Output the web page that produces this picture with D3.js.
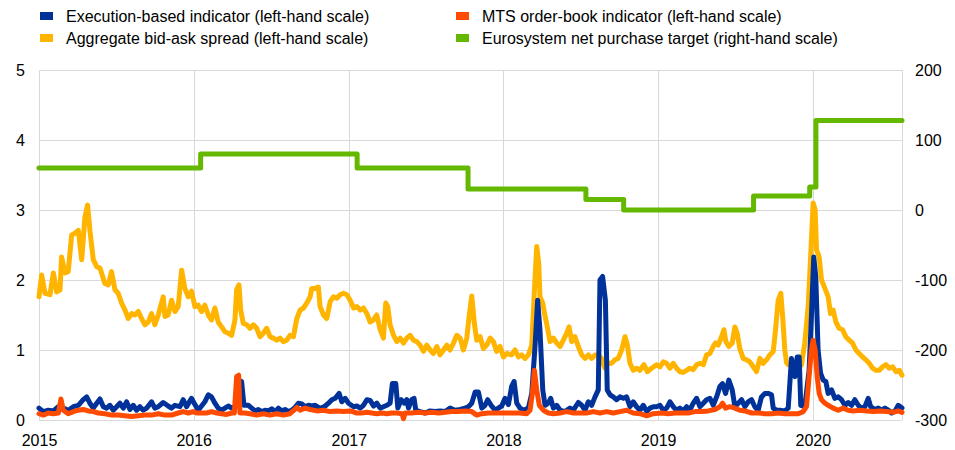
<!DOCTYPE html>
<html>
<head>
<meta charset="utf-8">
<script src="https://cdn.jsdelivr.net/npm/d3@7"></script>
<style>
  body { margin: 0; background: #fff; }
  svg { display: block; font-family: "Liberation Sans", Arial, sans-serif; }
</style>
</head>
<body>
<svg id="chart" width="955" height="450"></svg>
<script>
// series as [decimal year, value]
const execution = [
  [2015.000,0.17],[2015.028,0.12],[2015.060,0.14],[2015.093,0.13],[2015.125,0.19],[2015.157,0.17],[2015.189,0.14],[2015.222,0.19],
  [2015.254,0.21],[2015.286,0.29],[2015.308,0.33],[2015.329,0.24],[2015.351,0.17],[2015.373,0.24],[2015.394,0.30],[2015.416,0.19],
  [2015.437,0.17],[2015.459,0.21],[2015.480,0.14],[2015.502,0.19],[2015.523,0.24],[2015.545,0.17],[2015.566,0.26],[2015.588,0.15],
  [2015.609,0.21],[2015.631,0.14],[2015.652,0.19],[2015.674,0.14],[2015.696,0.17],[2015.728,0.26],[2015.749,0.17],[2015.771,0.19],
  [2015.803,0.25],[2015.835,0.20],[2015.857,0.17],[2015.879,0.21],[2015.911,0.19],[2015.932,0.29],[2015.954,0.19],[2015.986,0.31],
  [2016.008,0.22],[2016.029,0.14],[2016.051,0.20],[2016.072,0.26],[2016.094,0.36],[2016.115,0.33],[2016.137,0.24],[2016.158,0.17],
  [2016.180,0.14],[2016.202,0.17],[2016.223,0.20],[2016.245,0.17],[2016.266,0.19],[2016.277,0.20],[2016.288,0.57],[2016.309,0.55],
  [2016.324,0.21],[2016.352,0.21],[2016.374,0.17],[2016.395,0.13],[2016.417,0.15],[2016.438,0.12],[2016.460,0.14],[2016.481,0.13],
  [2016.503,0.16],[2016.525,0.12],[2016.546,0.17],[2016.568,0.13],[2016.589,0.15],[2016.611,0.12],[2016.632,0.14],[2016.654,0.18],
  [2016.675,0.24],[2016.697,0.23],[2016.718,0.19],[2016.740,0.21],[2016.761,0.20],[2016.783,0.21],[2016.804,0.18],[2016.826,0.17],
  [2016.848,0.20],[2016.869,0.24],[2016.891,0.29],[2016.912,0.31],[2016.938,0.38],[2016.955,0.26],[2016.977,0.31],[2016.998,0.24],
  [2017.031,0.19],[2017.052,0.20],[2017.074,0.17],[2017.095,0.21],[2017.117,0.29],[2017.138,0.28],[2017.160,0.20],[2017.181,0.24],
  [2017.203,0.17],[2017.224,0.19],[2017.246,0.21],[2017.267,0.24],[2017.282,0.52],[2017.304,0.52],[2017.317,0.17],[2017.339,0.29],
  [2017.360,0.24],[2017.375,0.29],[2017.386,0.17],[2017.407,0.29],[2017.422,0.31],[2017.433,0.14],[2017.461,0.12],[2017.494,0.10],
  [2017.526,0.13],[2017.558,0.12],[2017.590,0.13],[2017.623,0.12],[2017.655,0.17],[2017.687,0.14],[2017.720,0.15],[2017.752,0.17],
  [2017.773,0.19],[2017.795,0.24],[2017.817,0.40],[2017.838,0.40],[2017.860,0.17],[2017.881,0.21],[2017.898,0.29],[2017.920,0.21],
  [2017.946,0.14],[2017.967,0.17],[2017.989,0.20],[2018.010,0.31],[2018.032,0.22],[2018.053,0.48],[2018.069,0.55],[2018.086,0.24],
  [2018.107,0.17],[2018.129,0.14],[2018.161,0.17],[2018.183,0.38],[2018.204,1.05],[2018.221,1.71],[2018.236,1.29],[2018.254,0.43],
  [2018.269,0.21],[2018.290,0.24],[2018.305,0.31],[2018.323,0.17],[2018.344,0.21],[2018.366,0.14],[2018.398,0.12],[2018.430,0.17],
  [2018.452,0.14],[2018.484,0.25],[2018.506,0.21],[2018.527,0.14],[2018.549,0.26],[2018.570,0.21],[2018.592,0.33],[2018.613,0.43],
  [2018.624,2.00],[2018.641,2.05],[2018.659,1.71],[2018.671,0.43],[2018.689,0.36],[2018.710,0.33],[2018.732,0.29],[2018.753,0.33],
  [2018.775,0.31],[2018.796,0.33],[2018.818,0.19],[2018.839,0.26],[2018.861,0.19],[2018.882,0.14],[2018.904,0.21],[2018.926,0.12],
  [2018.947,0.17],[2018.969,0.19],[2018.990,0.19],[2019.012,0.21],[2019.033,0.14],[2019.055,0.17],[2019.076,0.26],[2019.098,0.19],
  [2019.119,0.14],[2019.141,0.17],[2019.162,0.13],[2019.184,0.19],[2019.205,0.14],[2019.227,0.24],[2019.249,0.31],[2019.270,0.19],
  [2019.292,0.24],[2019.313,0.29],[2019.335,0.31],[2019.356,0.21],[2019.378,0.33],[2019.399,0.48],[2019.416,0.52],[2019.436,0.38],
  [2019.457,0.57],[2019.479,0.43],[2019.496,0.19],[2019.518,0.24],[2019.539,0.29],[2019.561,0.19],[2019.582,0.26],[2019.604,0.29],
  [2019.625,0.19],[2019.647,0.14],[2019.668,0.33],[2019.690,0.38],[2019.711,0.38],[2019.733,0.36],[2019.744,0.17],[2019.765,0.14],
  [2019.787,0.14],[2019.819,0.13],[2019.841,0.17],[2019.862,0.88],[2019.884,0.62],[2019.899,0.90],[2019.912,0.90],[2019.922,0.21],
  [2019.948,0.19],[2019.976,0.71],[2019.991,1.48],[2020.006,2.33],[2020.019,2.05],[2020.034,1.00],[2020.050,0.67],[2020.067,0.57],
  [2020.084,0.55],[2020.099,0.38],[2020.121,0.43],[2020.142,0.31],[2020.164,0.33],[2020.185,0.29],[2020.207,0.21],[2020.228,0.25],
  [2020.250,0.21],[2020.271,0.29],[2020.293,0.21],[2020.314,0.17],[2020.336,0.19],[2020.357,0.31],[2020.373,0.19],[2020.400,0.15],
  [2020.422,0.17],[2020.444,0.14],[2020.465,0.17],[2020.487,0.14],[2020.508,0.10],[2020.530,0.13],[2020.551,0.21],[2020.575,0.17]
];

const mtsOrderBook = [
  [2015.000,0.09],[2015.028,0.07],[2015.060,0.10],[2015.093,0.09],[2015.125,0.10],[2015.142,0.30],[2015.157,0.14],[2015.189,0.09],
  [2015.222,0.12],[2015.254,0.14],[2015.286,0.15],[2015.319,0.13],[2015.351,0.12],[2015.383,0.10],[2015.426,0.09],[2015.469,0.07],
  [2015.512,0.07],[2015.556,0.06],[2015.599,0.05],[2015.642,0.06],[2015.685,0.07],[2015.728,0.07],[2015.771,0.09],[2015.814,0.07],
  [2015.857,0.07],[2015.900,0.10],[2015.932,0.12],[2015.965,0.10],[2015.997,0.12],[2016.019,0.10],[2016.051,0.10],[2016.083,0.10],
  [2016.115,0.12],[2016.148,0.10],[2016.180,0.09],[2016.212,0.08],[2016.245,0.10],[2016.262,0.10],[2016.277,0.62],[2016.290,0.64],
  [2016.298,0.10],[2016.331,0.10],[2016.363,0.09],[2016.406,0.07],[2016.449,0.09],[2016.492,0.07],[2016.535,0.09],[2016.578,0.07],
  [2016.621,0.09],[2016.647,0.14],[2016.665,0.18],[2016.686,0.14],[2016.718,0.17],[2016.751,0.15],[2016.794,0.13],[2016.837,0.14],
  [2016.880,0.12],[2016.923,0.13],[2016.966,0.12],[2017.009,0.13],[2017.052,0.10],[2017.084,0.10],[2017.117,0.11],[2017.149,0.10],
  [2017.181,0.09],[2017.214,0.10],[2017.246,0.09],[2017.278,0.10],[2017.311,0.10],[2017.343,0.09],[2017.354,0.02],[2017.364,0.10],
  [2017.407,0.10],[2017.450,0.11],[2017.494,0.10],[2017.537,0.11],[2017.580,0.10],[2017.623,0.11],[2017.666,0.12],[2017.709,0.12],
  [2017.752,0.13],[2017.795,0.12],[2017.827,0.07],[2017.860,0.09],[2017.903,0.10],[2017.946,0.10],[2017.989,0.10],[2018.032,0.10],
  [2018.064,0.10],[2018.107,0.10],[2018.150,0.09],[2018.172,0.14],[2018.187,0.38],[2018.200,0.71],[2018.215,0.43],[2018.232,0.21],
  [2018.258,0.14],[2018.290,0.10],[2018.323,0.09],[2018.366,0.10],[2018.409,0.12],[2018.452,0.10],[2018.495,0.10],[2018.538,0.10],
  [2018.581,0.12],[2018.624,0.10],[2018.667,0.12],[2018.710,0.10],[2018.753,0.12],[2018.796,0.14],[2018.839,0.10],[2018.882,0.09],
  [2018.926,0.06],[2018.969,0.09],[2019.022,0.10],[2019.066,0.09],[2019.109,0.10],[2019.152,0.10],[2019.195,0.10],[2019.238,0.12],
  [2019.281,0.12],[2019.324,0.13],[2019.367,0.15],[2019.399,0.19],[2019.416,0.24],[2019.436,0.17],[2019.464,0.19],[2019.496,0.17],
  [2019.528,0.14],[2019.561,0.13],[2019.604,0.10],[2019.647,0.10],[2019.690,0.09],[2019.733,0.09],[2019.776,0.10],[2019.819,0.09],
  [2019.862,0.09],[2019.905,0.09],[2019.938,0.12],[2019.959,0.19],[2019.976,0.62],[2019.991,1.00],[2020.002,1.14],[2020.015,1.00],
  [2020.028,0.62],[2020.041,0.38],[2020.056,0.29],[2020.078,0.24],[2020.099,0.21],[2020.131,0.17],[2020.164,0.14],[2020.196,0.17],
  [2020.228,0.14],[2020.261,0.13],[2020.304,0.14],[2020.347,0.13],[2020.390,0.12],[2020.433,0.13],[2020.476,0.12],[2020.519,0.11],
  [2020.551,0.13],[2020.575,0.11]
];

const bidAskSpread = [
  [2015.000,1.76],[2015.017,2.07],[2015.039,1.81],[2015.071,1.79],[2015.093,2.10],[2015.114,1.83],[2015.136,1.86],[2015.146,2.33],
  [2015.168,2.10],[2015.189,2.12],[2015.211,2.64],[2015.233,2.67],[2015.254,2.71],[2015.276,2.29],[2015.297,2.90],[2015.314,3.07],
  [2015.329,2.71],[2015.351,2.29],[2015.373,2.19],[2015.394,2.17],[2015.426,1.95],[2015.448,1.93],[2015.469,2.12],[2015.491,1.86],
  [2015.512,1.81],[2015.534,1.67],[2015.556,1.57],[2015.577,1.45],[2015.599,1.52],[2015.620,1.50],[2015.642,1.55],[2015.663,1.45],
  [2015.685,1.36],[2015.706,1.40],[2015.728,1.52],[2015.749,1.36],[2015.771,1.50],[2015.803,1.76],[2015.814,1.48],[2015.835,1.50],
  [2015.857,1.71],[2015.879,1.55],[2015.900,1.62],[2015.922,2.14],[2015.943,1.88],[2015.965,1.76],[2015.986,1.84],[2016.008,1.62],
  [2016.029,1.64],[2016.051,1.55],[2016.072,1.64],[2016.094,1.50],[2016.115,1.43],[2016.137,1.60],[2016.158,1.40],[2016.180,1.33],
  [2016.202,1.26],[2016.223,1.24],[2016.245,1.21],[2016.266,1.43],[2016.277,1.86],[2016.292,1.93],[2016.303,1.57],[2016.320,1.38],
  [2016.342,1.36],[2016.363,1.31],[2016.385,1.36],[2016.406,1.31],[2016.428,1.19],[2016.449,1.24],[2016.471,1.31],[2016.492,1.19],
  [2016.514,1.17],[2016.535,1.14],[2016.557,1.17],[2016.578,1.12],[2016.600,1.14],[2016.621,1.21],[2016.643,1.19],[2016.665,1.45],
  [2016.686,1.57],[2016.708,1.60],[2016.729,1.67],[2016.751,1.76],[2016.761,1.88],[2016.783,1.88],[2016.804,1.90],[2016.815,1.62],
  [2016.837,1.50],[2016.858,1.45],[2016.880,1.69],[2016.901,1.76],[2016.923,1.74],[2016.944,1.79],[2016.966,1.81],[2016.988,1.79],
  [2017.009,1.71],[2017.031,1.60],[2017.052,1.62],[2017.074,1.57],[2017.095,1.60],[2017.117,1.52],[2017.138,1.40],[2017.160,1.43],
  [2017.181,1.50],[2017.203,1.29],[2017.224,1.17],[2017.239,1.67],[2017.252,1.62],[2017.267,1.36],[2017.289,1.21],[2017.311,1.12],
  [2017.332,1.17],[2017.354,1.10],[2017.375,1.17],[2017.397,1.21],[2017.418,1.14],[2017.440,1.12],[2017.461,1.07],[2017.483,0.98],
  [2017.504,1.07],[2017.526,1.00],[2017.547,0.95],[2017.569,1.05],[2017.590,0.93],[2017.612,1.00],[2017.634,1.07],[2017.655,1.00],
  [2017.677,1.10],[2017.698,1.21],[2017.720,1.17],[2017.741,1.00],[2017.763,1.17],[2017.778,1.48],[2017.795,1.77],[2017.812,1.38],
  [2017.827,1.14],[2017.849,1.19],[2017.870,1.02],[2017.892,1.07],[2017.914,1.17],[2017.935,1.12],[2017.956,0.98],[2017.978,1.05],
  [2018.000,0.90],[2018.021,0.95],[2018.053,0.93],[2018.075,1.00],[2018.097,0.90],[2018.118,0.93],[2018.140,0.88],[2018.161,0.93],
  [2018.183,1.07],[2018.198,1.76],[2018.215,2.48],[2018.228,2.24],[2018.236,1.76],[2018.254,1.67],[2018.269,1.48],[2018.279,1.38],
  [2018.301,1.12],[2018.323,1.17],[2018.344,1.10],[2018.366,1.05],[2018.387,1.14],[2018.409,1.24],[2018.424,1.33],[2018.441,1.12],
  [2018.462,1.19],[2018.484,1.05],[2018.506,0.93],[2018.527,0.88],[2018.549,0.93],[2018.570,0.88],[2018.592,0.93],[2018.613,0.93],
  [2018.635,0.88],[2018.656,0.74],[2018.678,0.81],[2018.699,0.81],[2018.721,0.86],[2018.742,0.88],[2018.764,1.00],[2018.786,1.19],
  [2018.801,1.07],[2018.818,0.81],[2018.839,0.71],[2018.861,0.74],[2018.882,0.71],[2018.908,0.79],[2018.930,0.69],[2018.958,0.74],
  [2018.990,0.79],[2019.012,0.76],[2019.033,0.83],[2019.055,0.81],[2019.076,0.74],[2019.098,0.81],[2019.119,0.74],[2019.141,0.69],
  [2019.162,0.68],[2019.184,0.71],[2019.205,0.74],[2019.227,0.72],[2019.249,0.79],[2019.270,0.81],[2019.292,0.79],[2019.313,0.93],
  [2019.335,0.95],[2019.356,1.05],[2019.371,1.10],[2019.388,1.07],[2019.410,1.19],[2019.425,1.29],[2019.438,1.12],[2019.457,1.05],
  [2019.479,1.10],[2019.496,1.33],[2019.511,1.24],[2019.528,1.02],[2019.550,0.88],[2019.571,0.86],[2019.593,0.83],[2019.615,0.76],
  [2019.636,0.69],[2019.658,0.88],[2019.679,0.81],[2019.701,0.86],[2019.722,0.93],[2019.744,0.98],[2019.759,1.29],[2019.776,1.71],
  [2019.793,1.81],[2019.806,1.45],[2019.819,1.00],[2019.830,0.82],[2019.841,0.79],[2019.862,0.81],[2019.884,0.81],[2019.905,0.74],
  [2019.927,0.79],[2019.948,1.10],[2019.970,1.62],[2019.987,2.38],[2020.002,3.10],[2020.015,3.00],[2020.024,2.43],[2020.041,2.33],
  [2020.056,2.00],[2020.078,1.88],[2020.099,1.76],[2020.114,1.52],[2020.131,1.57],[2020.149,1.40],[2020.170,1.31],[2020.192,1.29],
  [2020.213,1.19],[2020.235,1.14],[2020.256,1.10],[2020.278,1.00],[2020.299,0.95],[2020.321,0.90],[2020.342,0.86],[2020.364,0.81],
  [2020.385,0.74],[2020.407,0.71],[2020.429,0.71],[2020.450,0.76],[2020.472,0.79],[2020.493,0.74],[2020.515,0.76],[2020.536,0.69],
  [2020.558,0.71],[2020.575,0.64]
];

// net purchase target, EUR bn per month (steps)
const purchaseTarget = [
  [2015.000,60],[2016.045,80],[2017.054,60],[2017.771,30],[2018.533,15],[2018.777,0],
  [2019.617,20],[2019.980,33],[2020.020,128],[2020.575,128]
];

const leftTicks = [0, 1, 2, 3, 4, 5];
const rightTicks = [-300, -200, -100, 0, 100, 200];
const yearTicks = [2015, 2016, 2017, 2018, 2019, 2020];

const legendItems = [
  {label: "Execution-based indicator (left-hand scale)", color: "#003299", col: 0, row: 0},
  {label: "MTS order-book indicator (left-hand scale)", color: "#ff4b00", col: 1, row: 0},
  {label: "Aggregate bid-ask spread (left-hand scale)", color: "#ffb400", col: 0, row: 1},
  {label: "Eurosystem net purchase target (right-hand scale)", color: "#65b800", col: 1, row: 1}
];

function toDate(t) {
  const y = Math.floor(t);
  const a = new Date(y, 0, 1), b = new Date(y + 1, 0, 1);
  return new Date(+a + (t - y) * (b - a));
}

const svg = d3.select("#chart");
const margin = {left: 39, right: 53, top: 70, bottom: 30};
const W = 955, H = 450;

const x = d3.scaleTime()
  .domain([toDate(2015), toDate(2020.575)])
  .range([margin.left, W - margin.right]);
const yL = d3.scaleLinear().domain([0, 5]).range([H - margin.bottom, margin.top]);
const yR = d3.scaleLinear().domain([-300, 200]).range([H - margin.bottom, margin.top]);

// grid
const grid = svg.append("g").attr("stroke", "#d9d9d9").attr("stroke-width", 1);
grid.selectAll("line.h").data(leftTicks).join("line")
  .attr("x1", margin.left).attr("x2", W - margin.right)
  .attr("y1", d => Math.round(yL(d)) + 0.5).attr("y2", d => Math.round(yL(d)) + 0.5);
grid.selectAll("line.v").data(yearTicks.map(toDate).concat([toDate(2020.575)])).join("line")
  .attr("x1", d => Math.round(x(d)) + 0.5).attr("x2", d => Math.round(x(d)) + 0.5)
  .attr("y1", margin.top).attr("y2", H - margin.bottom);

// axes (plain hyphen for negatives, as in the original)
const plain = d => String(d);
const axL = svg.append("g").attr("transform", `translate(${margin.left - 14},0)`)
  .call(d3.axisLeft(yL).tickValues(leftTicks).tickFormat(plain).tickSize(0).tickPadding(0));
const axR = svg.append("g").attr("transform", `translate(${W - margin.right + 13},0)`)
  .call(d3.axisRight(yR).tickValues(rightTicks).tickFormat(plain).tickSize(0).tickPadding(0));
const axB = svg.append("g").attr("transform", `translate(0,${H - margin.bottom + 20})`)
  .call(d3.axisBottom(x).tickValues(yearTicks.map(toDate)).tickFormat(d3.timeFormat("%Y")).tickSize(0).tickPadding(0));
[axL, axR, axB].forEach(g => {
  g.select(".domain").remove();
  g.selectAll("text").attr("fill", "#000").style("font-size", "16px")
    .style("font-family", '"Liberation Sans", Arial, sans-serif');
});
axB.selectAll("text").attr("dy", "0.35em").attr("y", 0);

// lines
const lineL = d3.line().x(d => x(toDate(d[0]))).y(d => yL(d[1])).curve(d3.curveLinear);
const lineR = d3.line().x(d => x(toDate(d[0]))).y(d => yR(d[1])).curve(d3.curveStepAfter);

const series = [
  {data: bidAskSpread, color: "#ffb400", gen: lineL},
  {data: execution, color: "#003299", gen: lineL},
  {data: mtsOrderBook, color: "#ff4b00", gen: lineL},
  {data: purchaseTarget, color: "#65b800", gen: lineR}
];
svg.append("g").selectAll("path").data(series).join("path")
  .attr("d", d => d.gen(d.data))
  .attr("fill", "none")
  .attr("stroke", d => d.color)
  .attr("stroke-width", 5)
  .attr("stroke-linejoin", "round")
  .attr("stroke-linecap", "round");

// legend
const leg = svg.append("g").selectAll("g").data(legendItems).join("g")
  .attr("transform", d => `translate(${40 + d.col * 416},${16 + d.row * 22})`);
leg.append("rect").attr("x", 0).attr("y", -4).attr("width", 13).attr("height", 8).attr("fill", d => d.color);
leg.append("text").attr("x", 26).attr("dy", "0.35em").style("font-size", "16px").attr("fill", "#000")
  .text(d => d.label);
</script>
</body>
</html>
